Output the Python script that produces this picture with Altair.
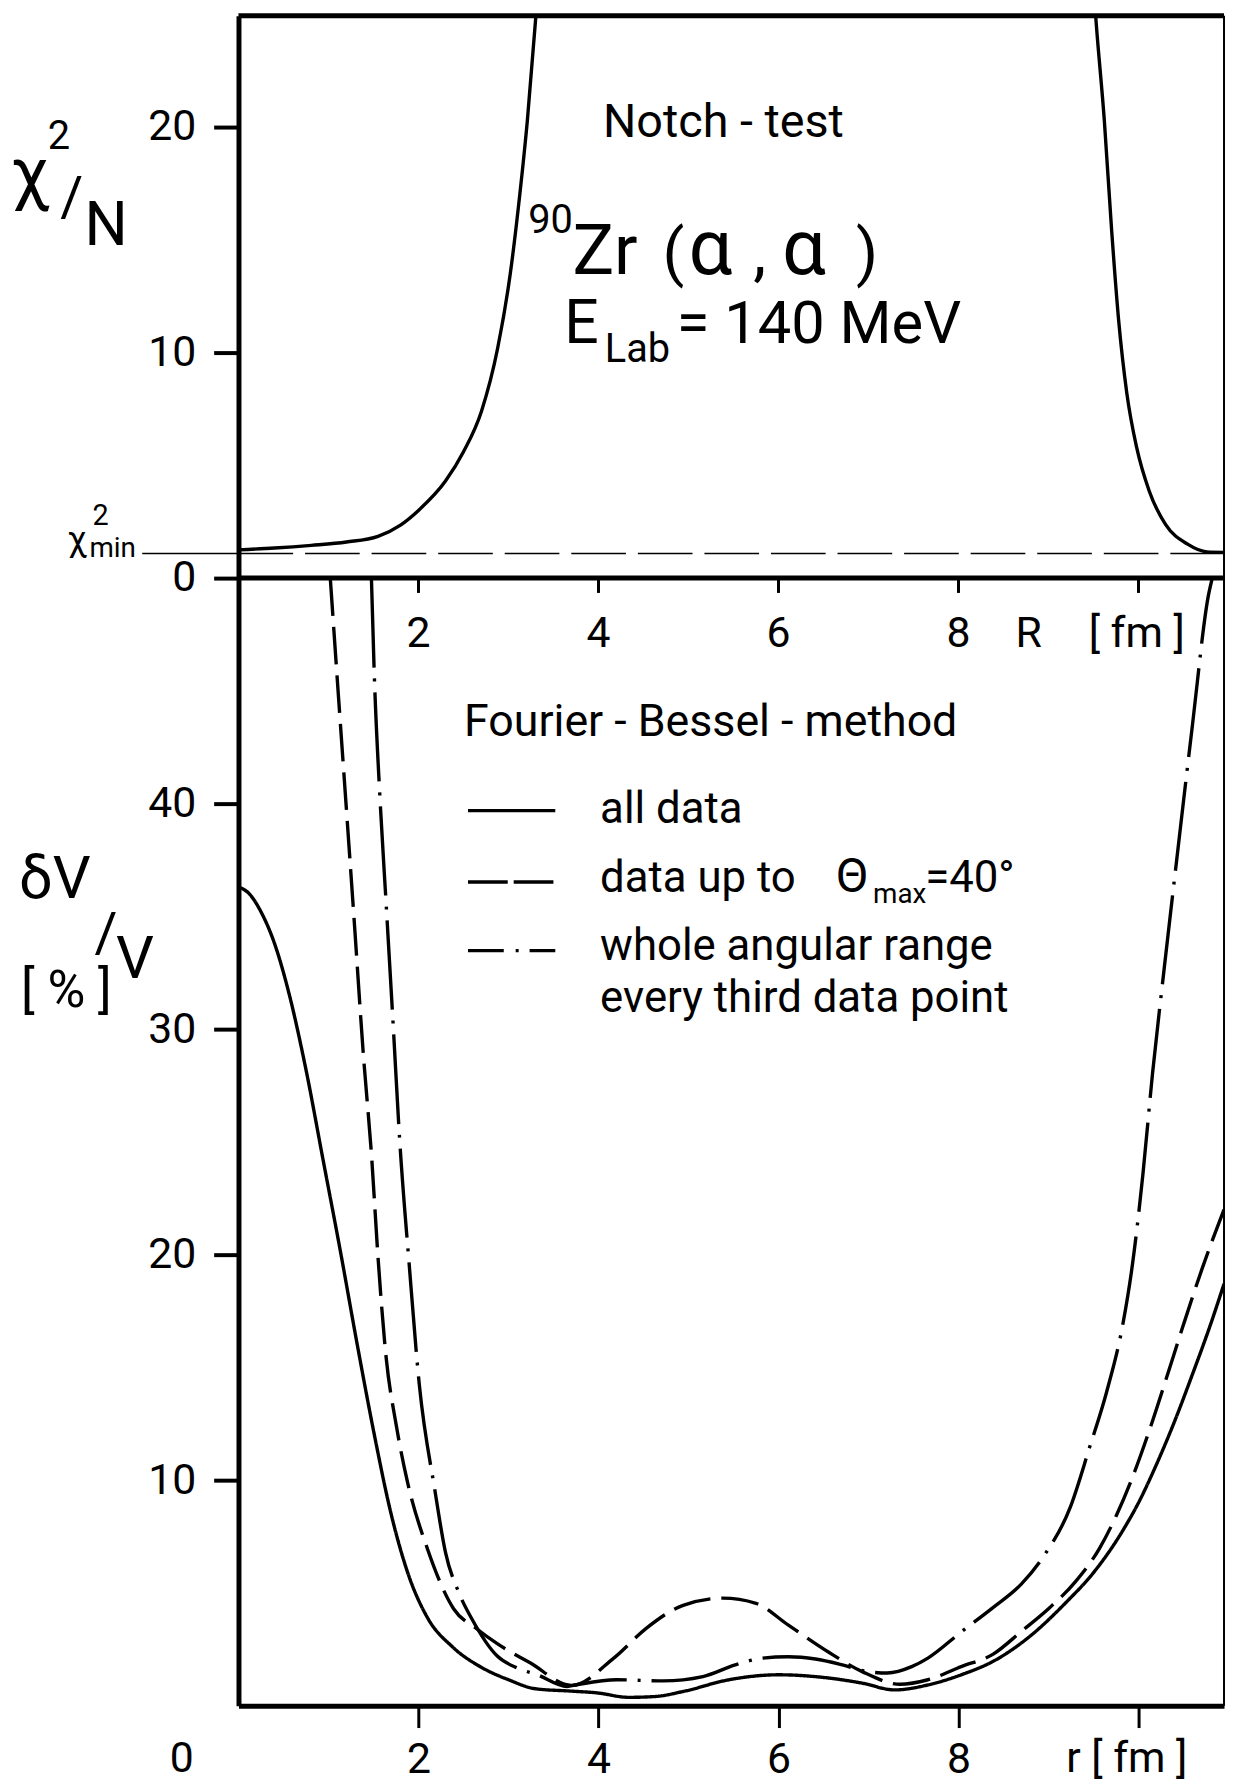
import altair as alt
import pandas as pd

FONT = "Roboto"

# ---------------- axes layout values ----------------
R_MAX = 10.95      # right edge of both panels (fm)
SPLIT = 50.0       # lower panel top (dV/V = 50 %) == upper panel chi2/N = 0
TOP_SPAN = 24.93   # chi2/N at the top edge of the upper panel
CHI2_MIN = 1.09

# ---------------- upper panel: Notch test chi^2/N vs R ----------------
chi_R = [0.0, 0.4, 0.81, 1.2, 1.55, 1.8, 2.0, 2.3, 2.5, 2.7, 2.88, 3.02, 3.12, 3.21, 3.3, 3.36,
         9.47, 9.53, 9.62, 9.7, 9.78, 9.87, 9.98, 10.12, 10.3, 10.55, 10.76, 10.95]
chi_val = [1.25, 1.33, 1.45, 1.6, 1.85, 2.35, 3.0, 4.3, 5.6, 7.4, 10.2, 13.5, 16.8, 20.3, 24.7, 28.0,
           28.0, 24.6, 20.3, 15.5, 11.4, 8.2, 5.78, 3.85, 2.38, 1.49, 1.16, 1.14]

# ---------------- lower panel: dV/V [%] vs r ----------------
solid_r = [0.0, 0.12, 0.25, 0.4, 0.56, 0.75, 0.94, 1.13, 1.32, 1.51, 1.69, 1.88, 2.1, 2.38, 2.7,
           3.0, 3.3, 3.68, 3.98, 4.34, 4.64, 4.94, 5.45, 6.0, 6.55, 6.93, 7.29, 7.66, 8.03, 8.4,
           8.8, 9.2, 9.5, 9.8, 10.0, 10.2, 10.4, 10.6, 10.8, 10.95]
solid_v = [36.3, 36.0, 35.2, 33.8, 31.6, 28.2, 24.2, 20.2, 16.0, 12.0, 8.6, 5.9, 3.9, 2.6, 1.7,
           1.15, 0.75, 0.65, 0.57, 0.37, 0.41, 0.63, 1.15, 1.37, 1.23, 1.0, 0.7, 0.92, 1.37, 2.0,
           3.1, 4.6, 5.9, 7.6, 9.0, 10.7, 12.6, 14.7, 16.9, 18.7]

dashed_r = [1.02, 1.11, 1.20, 1.29, 1.385, 1.48, 1.55, 1.64, 1.75, 1.88, 2.10, 2.39, 2.65, 2.875, 3.24,
            3.7, 4.17, 4.53, 4.94, 5.38, 5.75, 6.11, 6.55, 6.93, 7.35, 7.66, 8.03, 8.39, 8.7, 9.0,
            9.3, 9.57, 9.75, 9.94, 10.12, 10.3, 10.5, 10.7, 10.95]
dashed_v = [50.0, 44.8, 39.7, 34.55, 29.0, 24.3, 19.9, 15.46, 12.5, 9.88, 6.95, 4.3, 3.4, 2.75, 1.9,
            0.9, 2.11, 3.43, 4.45, 4.77, 4.54, 3.57, 2.39, 1.51, 0.95, 1.15, 1.73, 2.3, 3.3, 4.3,
            5.5, 7.0, 8.4, 10.2, 12.2, 14.4, 16.9, 19.3, 22.0]

dashdot_r = [1.477, 1.51, 1.57, 1.64, 1.72, 1.79, 1.90, 2.01, 2.18, 2.30, 2.45, 2.6, 2.875, 3.1, 3.32,
             3.65, 3.76, 4.2, 4.72, 5.16, 5.52, 5.82, 6.11, 6.41, 6.71, 6.99, 7.21, 7.48, 7.66, 8.03,
             8.39, 8.7, 8.95, 9.24, 9.46, 9.645, 9.83, 9.92, 10.05, 10.155, 10.28, 10.43, 10.6,
             10.78, 10.82]
dashdot_v = [50.0, 45.6, 40.4, 35.6, 30.1, 25.15, 19.4, 14.2, 9.6, 6.8, 5.0, 3.8, 2.2, 1.67, 1.37,
             0.85, 0.93, 1.15, 1.10, 1.29, 1.81, 2.11, 2.17, 2.07, 1.81, 1.51, 1.45, 1.73, 2.11, 3.27,
             4.37, 5.4, 6.65, 8.78, 11.5, 13.9, 17.0, 19.2, 23.6, 28.0, 32.5, 37.7, 43.5,
             49.3, 50.0]

series_names = ["all data", "data up to 40 deg", "every third data point"]
series_dash = [[1, 0], [38, 11], [90, 11, 3, 11]]

x_ticks = [2, 4, 6, 8, 10]
y_ticks = [10, 20, 30, 40, 50, 60, 70]

# ---------------- tables ----------------
df_chi = pd.DataFrame({"r": chi_R, "chi": chi_val})
df_curves = pd.concat([
    pd.DataFrame({"r": solid_r, "v": solid_v, "s": series_names[0]}),
    pd.DataFrame({"r": dashed_r, "v": dashed_v, "s": series_names[1]}),
    pd.DataFrame({"r": dashdot_r, "v": dashdot_v, "s": series_names[2]}),
], ignore_index=True)

xs = alt.Scale(domain=[0, R_MAX], nice=False, zero=False)
ys = alt.Scale(domain=[0, SPLIT + TOP_SPAN], nice=False, zero=False)

x_axis = alt.Axis(values=x_ticks, labelExpr="datum.value == 10 ? '' : datum.label",
                  tickSize=22, tickWidth=3, tickColor="black", domainWidth=5, domainColor="black",
                  labelFontSize=43, labelFont=FONT, labelColor="black", labelPadding=11,
                  grid=False, title=None, labelFlush=False, labelOverlap=False)
y_axis = alt.Axis(values=y_ticks,
                  labelExpr="datum.value >= 50 ? format(datum.value - 50, 'd') : format(datum.value, 'd')",
                  tickSize=25, tickWidth=4, tickColor="black", domainWidth=5, domainColor="black",
                  labelFontSize=43, labelFont=FONT, labelColor="black", labelPadding=18,
                  grid=False, title=None, labelFlush=False, labelOverlap=False)

X = alt.X("r:Q", scale=xs, axis=x_axis)
Y = alt.Y("v:Q", scale=ys, axis=y_axis)

# upper curve (offset by SPLIT on the shared vertical scale)
chi_line = alt.Chart(df_chi).transform_calculate(v=f"datum.chi + {SPLIT}").mark_line(
    color="black", strokeWidth=3.4, interpolate="monotone", clip=True
).encode(x=X, y=Y)

curves = alt.Chart(df_curves).mark_line(color="black", strokeWidth=3.4, interpolate="monotone").encode(
    x=X, y=Y,
    detail="s:N",
    strokeDash=alt.StrokeDash("s:N", scale=alt.Scale(domain=series_names, range=series_dash), legend=None),
)

# frame: top border, middle (shared) axis line, right border
df_frame = pd.DataFrame({
    "r": [0, 0, R_MAX], "r2": [R_MAX, R_MAX, R_MAX],
    "v": [SPLIT + TOP_SPAN, SPLIT, 0], "v2": [SPLIT + TOP_SPAN, SPLIT, SPLIT + TOP_SPAN],
    "w": [5, 5, 2],
})
frame = alt.Chart(df_frame).mark_rule(color="black").encode(
    x=X, x2="r2:Q", y=Y, y2="v2:Q",
    strokeWidth=alt.StrokeWidth("w:Q", scale=None, legend=None),
)

# middle axis ticks (R axis of the upper panel), pointing down
df_mid = pd.DataFrame({"r": x_ticks, "v": [SPLIT] * 5, "v2": [SPLIT - 0.66] * 5})
mid_ticks = alt.Chart(df_mid).mark_rule(color="black", strokeWidth=3).encode(x=X, y=Y, y2="v2:Q")

# chi^2_min reference line
df_min = pd.DataFrame({"r": [0.0], "r2": [R_MAX], "v": [SPLIT + CHI2_MIN]})
min_line = alt.Chart(df_min).mark_rule(color="black", strokeWidth=1.5, strokeDash=[55, 12]).encode(
    x=X, x2="r2:Q", y=Y)
df_min_lead = pd.DataFrame({"r": [-1.07], "r2": [0.0], "v": [SPLIT + CHI2_MIN]})
min_lead = alt.Chart(df_min_lead).mark_rule(color="black", strokeWidth=1.5).encode(x=X, x2="r2:Q", y=Y)

# legend samples
df_leg = pd.DataFrame({"r": [2.55], "r2": [3.52]})
def leg_line(v, dash):
    return alt.Chart(df_leg).transform_calculate(v=str(v)).mark_rule(
        color="black", strokeWidth=3.4, strokeDash=dash
    ).encode(x=X, x2="r2:Q", y=Y)
leg1 = leg_line(39.69, [1, 0])
leg2 = leg_line(36.52, [40, 6])
leg3 = leg_line(33.48, [36, 12, 3, 11])

# annotations
left_text = pd.DataFrame([
    ("Notch - test", 4.05, 69.56, 47),
    ("90", 3.22, 65.3, 40),
    ("Zr", 3.71, 63.48, 70),
    ("(", 4.71, 63.48, 64),
    ("α", 5.0, 63.48, 78),
    (",", 5.72, 63.48, 66),
    ("α", 6.04, 63.48, 78),
    (")", 6.86, 63.48, 64),
    ("E", 3.62, 60.44, 61),
    ("Lab", 4.07, 59.60, 40),
    ("= 140 MeV", 4.87, 60.44, 60),
    ("Fourier - Bessel - method", 2.506, 43.0, 45),
    ("all   data", 4.018, 39.12, 44),
    ("data  up  to", 4.018, 36.08, 44),
    ("Θ", 6.64, 36.08, 48),
    ("max", 7.05, 35.59, 28),
    ("=40°", 7.63, 36.08, 44),
    ("whole  angular  range", 4.018, 33.08, 44),
    ("every   third   data   point", 4.018, 30.75, 44),
    ("χ", -2.53, 66.9, 70),
    ("2", -2.119, 69.03, 40),
    ("/", -1.98, 66.04, 56),
    ("N", -1.711, 64.76, 61),
    ("δV", -2.44, 35.8, 60),
    ("/", -1.60, 33.4, 56),
    ("V", -1.36, 32.25, 60),
    ("[ %  ]", -2.417, 31.0, 52),
    ("χ", -1.899, 51.19, 35),
    ("2", -1.623, 52.35, 29),
    ("min", -1.656, 50.93, 28),
], columns=["text", "r", "v", "size"])

center_text = pd.DataFrame(
    [(str(t), float(t), 46.96, 43) for t in x_ticks[:4]] + [
        ("R", 8.78, 46.96, 43),
        ("[ fm ]", 9.98, 46.96, 43),
        ("0", -0.629, -2.95, 43),
        ("r [ fm ]", 9.87, -2.95, 43),
    ], columns=["text", "r", "v", "size"])

def text_layer(df, align):
    return alt.Chart(df).mark_text(align=align, baseline="alphabetic", font=FONT, color="black").encode(
        x=X, y=Y,
        text="text:N",
        size=alt.Size("size:Q", scale=None, legend=None),
    )

chart = alt.layer(
    chi_line, curves, frame, mid_ticks, min_line, min_lead, leg1, leg2, leg3,
    text_layer(left_text, "left"), text_layer(center_text, "center"),
).properties(
    width=992, height=1701,
    autosize=alt.AutoSizeParams(type="none"),
    padding={"left": 232, "top": 2, "right": 1, "bottom": 77},
).configure_view(stroke="transparent").configure(font=FONT)

chart.save("out.html", embed_options={"renderer": "svg", "actions": False})
